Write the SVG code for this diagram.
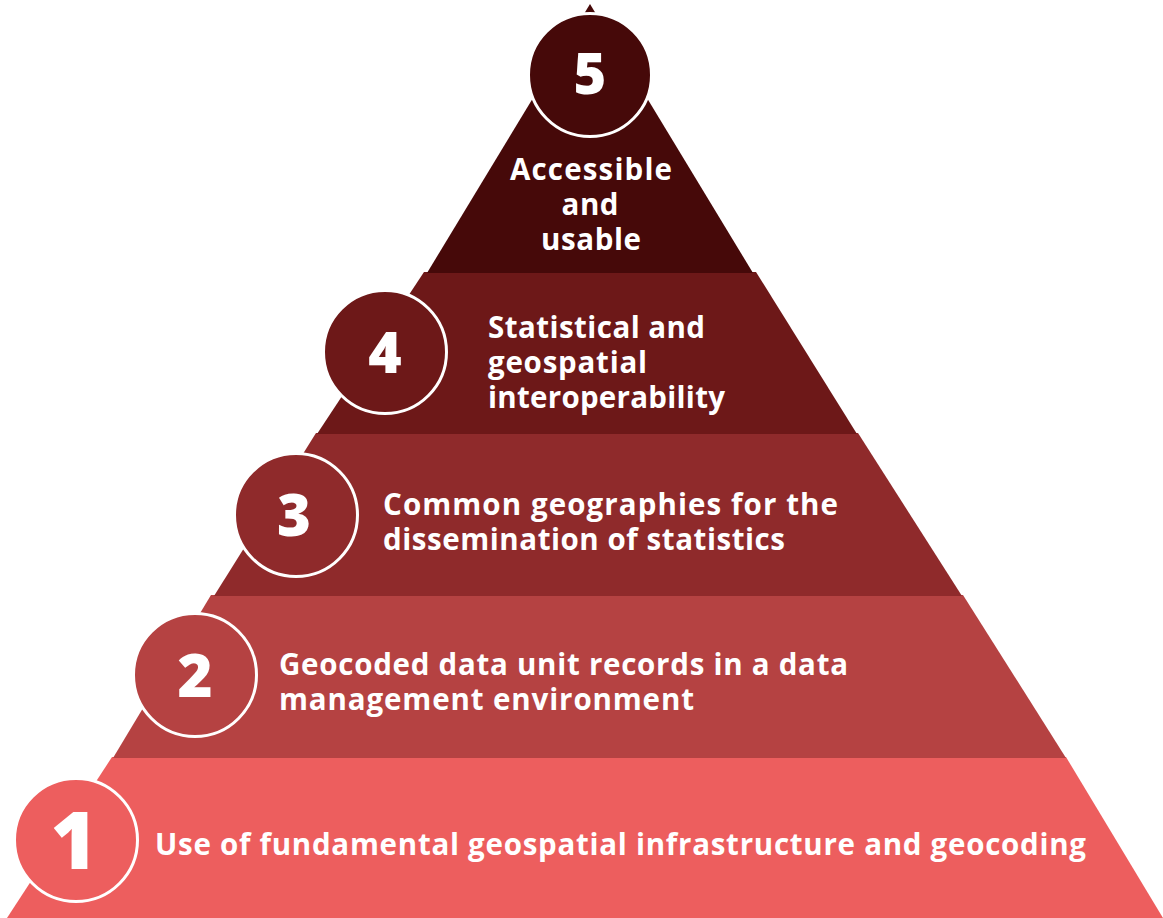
<svg xmlns="http://www.w3.org/2000/svg" width="1163" height="918" viewBox="0 0 1163 918">
  <style>
    .lbl { font-family: "Open Sans", "Liberation Sans", sans-serif; font-weight: 700; font-size: 29.5px; fill: #ffffff; }
    .num { font-family: "Open Sans", "Liberation Sans", sans-serif; font-weight: 800; fill: #ffffff; text-anchor: middle; }
    .ring { stroke: #ffffff; stroke-width: 3; }
  </style>
  <rect width="1163" height="918" fill="#ffffff"/>

  <!-- Level 1: base -->
  <g id="level1">
    <polygon points="112,757 1066,757 1163,918 7,918" fill="#ed5e5e"/>
    <circle class="ring" cx="76" cy="840" r="61.5" fill="#ed5e5e"/>
    <text class="num" x="74" y="869" font-size="80">1</text>
    <text class="lbl" x="155" y="855" textLength="931" lengthAdjust="spacing">Use of fundamental geospatial infrastructure and geocoding</text>
  </g>

  <!-- Level 2 -->
  <g id="level2">
    <polygon points="211,595 963,595 1066,758 113,758" fill="#b54242"/>
    <circle class="ring" cx="195" cy="675" r="61.5" fill="#b54242"/>
    <text class="num" x="195" y="697" font-size="60">2</text>
    <text class="lbl" x="279" y="675" textLength="569" lengthAdjust="spacing">Geocoded data unit records in a data</text>
    <text class="lbl" x="279" y="710" textLength="415" lengthAdjust="spacing">management environment</text>
  </g>

  <!-- Level 3 -->
  <g id="level3">
    <polygon points="316,433 858,433 962,596 214,596" fill="#8f2a2b"/>
    <circle class="ring" cx="296" cy="515" r="61.5" fill="#8f2a2b"/>
    <text class="num" x="294" y="536" font-size="58">3</text>
    <text class="lbl" x="383" y="515" textLength="455" lengthAdjust="spacing">Common geographies for the</text>
    <text class="lbl" x="383" y="550" textLength="402" lengthAdjust="spacing">dissemination of statistics</text>
  </g>

  <!-- Level 4 -->
  <g id="level4">
    <polygon points="424,272 756,272 857,434 317,434" fill="#6d1818"/>
    <circle class="ring" cx="385" cy="352" r="61.5" fill="#6d1818"/>
    <text class="num" x="385" y="373" font-size="57">4</text>
    <text class="lbl" x="488" y="338" textLength="217" lengthAdjust="spacing">Statistical and</text>
    <text class="lbl" x="488" y="373" textLength="159" lengthAdjust="spacing">geospatial</text>
    <text class="lbl" x="488" y="408" textLength="237" lengthAdjust="spacing">interoperability</text>
  </g>

  <!-- Level 5: apex -->
  <g id="level5">
    <polygon points="590,4 753,273 427,273" fill="#460909"/>
    <circle class="ring" cx="590" cy="75" r="61.5" fill="#460909"/>
    <text class="num" x="590" y="94" font-size="56">5</text>
    <text class="lbl" x="591" y="180" text-anchor="middle" textLength="162" lengthAdjust="spacing">Accessible</text>
    <text class="lbl" x="590" y="215" text-anchor="middle" textLength="57" lengthAdjust="spacing">and</text>
    <text class="lbl" x="591" y="250" text-anchor="middle" textLength="100" lengthAdjust="spacing">usable</text>
  </g>

  <g id="connectors"/>
</svg>
